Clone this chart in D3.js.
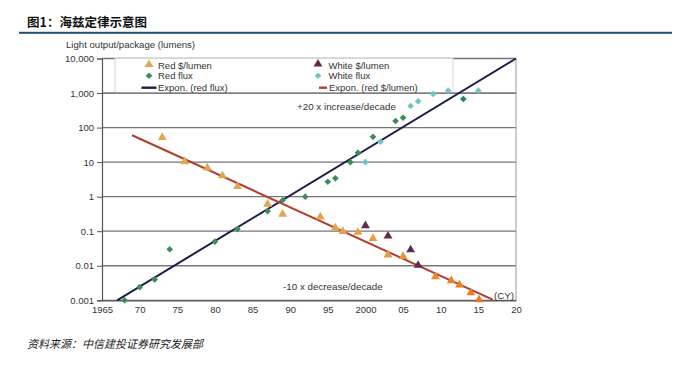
<!DOCTYPE html>
<html><head><meta charset="utf-8">
<script src="https://cdn.jsdelivr.net/npm/d3@7/dist/d3.min.js"></script>
<style>
html,body{margin:0;padding:0;background:#fff;}
svg{display:block;}
</style></head>
<body>
<svg id="chart" width="686" height="371"></svg>
<script>
// ---- data ----
const yTickValues = [10000, 1000, 100, 10, 1, 0.1, 0.01, 0.001];
const yTickLabels = ["10,000", "1,000", "100", "10", "1", "0.1", "0.01", "0.001"];
const xTickValues = [1965, 1970, 1975, 1980, 1985, 1990, 1995, 2000, 2005, 2010, 2015, 2020];
const xTickLabels = ["1965", "70", "75", "80", "85", "90", "95", "2000", "05", "10", "15", "20"];

const redCostYears = [1973, 1976, 1979, 1981, 1983, 1987, 1989, 1994, 1996, 1997, 1999, 2001, 2003, 2005, 2009.3, 2011.4, 2012.5, 2014, 2015.1];
const redCost      = [50, 10, 6.6, 3.9, 1.9, 0.59, 0.3, 0.25, 0.12, 0.095, 0.09, 0.06, 0.02, 0.018, 0.0047, 0.0036, 0.0027, 0.0016, 0.001];

const redFluxYears = [1968, 1970, 1972, 1974, 1980, 1983, 1987, 1989, 1992, 1995, 1996, 1998, 1999, 2001, 2004, 2005, 2013];
const redFlux      = [0.001, 0.0024, 0.004, 0.03, 0.05, 0.115, 0.38, 0.79, 1.0, 2.7, 3.4, 10, 18.6, 54, 155, 192, 670];

const whiteCostYears = [2000, 2003, 2006, 2007];
const whiteCost      = [0.14, 0.07, 0.028, 0.01];

const whiteFluxYears = [2000, 2002, 2006, 2007, 2009, 2011, 2015];
const whiteFlux      = [10, 39, 420, 575, 935, 1170, 1170];

// trend lines (fitted exponentials, endpoints)
const fluxFitYears = [1967, 2020];
const fluxFit      = [0.001, 10000];
const costFitYears = [1969, 2016.9];
const costFit      = [60, 0.00105];

// ---- drawing ----
const svg = d3.select("#chart");
const FONT = "'Liberation Sans', Arial, sans-serif";
const CJK = "'Noto Sans CJK SC', sans-serif";

const x = d3.scaleLinear().domain([1965, 2020]).range([102, 516]);
const y = d3.scaleLog().domain([0.001, 10000]).range([300.3, 58.5]);

// title
svg.append("text").attr("x", 27).attr("y", 27).attr("font-family", CJK)
  .attr("font-weight", "bold").attr("font-size", 12.5).attr("fill", "#111")
  .text("图1：海兹定律示意图");
svg.append("rect").attr("x", 19).attr("y", 31.8).attr("width", 653).attr("height", 2).attr("fill", "#1f4e79");

// axis title
svg.append("text").attr("x", 66).attr("y", 48).attr("font-family", FONT)
  .attr("font-size", 9.6).attr("fill", "#333").text("Light output/package (lumens)");

// gridlines
svg.append("g").selectAll("line").data(yTickValues).join("line")
  .attr("x1", x(1965)).attr("x2", x(2020))
  .attr("y1", d => y(d)).attr("y2", d => y(d))
  .attr("stroke", "#767676").attr("stroke-width", 1.3);

// right frame
svg.append("line").attr("x1", x(2020)).attr("x2", x(2020)).attr("y1", y(10000)).attr("y2", y(0.001))
  .attr("stroke", "#9a9a9a").attr("stroke-width", 1);

// legend box
svg.append("rect").attr("x", 115).attr("y", y(10000)).attr("width", 338).attr("height", 34)
  .attr("fill", "#fff").attr("stroke", "#d4d4d4").attr("stroke-width", 1);
// 1,000 gridline visible over the legend
svg.append("line").attr("x1", x(1965)).attr("x2", x(2020)).attr("y1", y(1000)).attr("y2", y(1000))
  .attr("stroke", "#767676").attr("stroke-width", 1.3);

// y axis
const yAxis = d3.axisLeft(y).tickValues(yTickValues).tickFormat((d, i) => yTickLabels[i]).tickSize(5).tickPadding(3);
const gy = svg.append("g").attr("transform", `translate(${x(1965)},0)`).call(yAxis);
gy.select(".domain").attr("stroke", "#555").attr("stroke-width", 1.2);
gy.selectAll(".tick line").attr("stroke", "#555");
gy.selectAll("text").attr("font-family", FONT).attr("font-size", 9.5).attr("fill", "#333");

// x axis
const xAxis = d3.axisBottom(x).tickValues(xTickValues).tickFormat((d, i) => xTickLabels[i]).tickSize(0).tickPadding(6);
const gx = svg.append("g").attr("transform", `translate(0,${y(0.001)})`).call(xAxis);
gx.select(".domain").attr("stroke", "#555").attr("stroke-width", 1.2);
gx.selectAll("text").attr("font-family", FONT).attr("font-size", 9.5).attr("fill", "#333");

// trend lines
const line = d3.line().x(d => x(d[0])).y(d => y(d[1]));
svg.append("path").datum(fluxFitYears.map((t, i) => [t, fluxFit[i]]))
  .attr("d", line).attr("fill", "none").attr("stroke", "#1c1c4e").attr("stroke-width", 2);
svg.append("path").datum(costFitYears.map((t, i) => [t, costFit[i]]))
  .attr("d", line).attr("fill", "none").attr("stroke", "#b33c2c").attr("stroke-width", 2);

// markers
const tri = d3.symbol().type(d3.symbolTriangle).size(34);
const sq = d3.symbol().type(d3.symbolSquare).size(22);
const orange = d3.scaleLinear().domain([1975, 2000, 2015]).range(["#dfa654", "#e8a045", "#ea7a1c"]).clamp(true);

function drawSeries(years, vals, sym, color, rot, dy) {
  svg.append("g").selectAll("path").data(years.map((t, i) => [t, vals[i]])).join("path")
    .attr("d", sym)
    .attr("transform", d => `translate(${x(d[0])},${y(d[1]) + (dy || 0)}) rotate(${rot})`)
    .attr("fill", typeof color === "function" ? d => color(d[0]) : color);
}
drawSeries(redFluxYears, redFlux, sq, d => d > 2010 ? "#2c7d78" : "#3f8a5c", 45);
drawSeries(whiteFluxYears, whiteFlux, sq, "#72c6c2", 45);
drawSeries(redCostYears, redCost, tri, orange, 0, -0.5);
drawSeries(whiteCostYears, whiteCost, tri, "#5e2c4a", 0, -0.5);

// legend entries
const leg = svg.append("g").attr("font-family", FONT).attr("font-size", 9.5).attr("fill", "#333");
const rows = [66, 75.8, 87.7];
leg.append("path").attr("d", tri).attr("transform", `translate(149,${rows[0] - 1.5})`).attr("fill", "#dfa654");
leg.append("path").attr("d", sq).attr("transform", `translate(149,${rows[1]}) rotate(45)`).attr("fill", "#3f8a5c");
leg.append("line").attr("x1", 141.5).attr("x2", 156.5).attr("y1", rows[2]).attr("y2", rows[2]).attr("stroke", "#1c1c4e").attr("stroke-width", 2.4);
leg.append("text").attr("x", 158).attr("y", rows[0] + 3.4).text("Red $/lumen");
leg.append("text").attr("x", 158).attr("y", rows[1] + 3.6).text("Red flux");
leg.append("text").attr("x", 158).attr("y", rows[2] + 3.6).text("Expon. (red flux)");

leg.append("path").attr("d", tri).attr("transform", `translate(318,${rows[0] - 2})`).attr("fill", "#5e2c4a");
leg.append("path").attr("d", sq).attr("transform", `translate(318,${rows[1]}) rotate(45)`).attr("fill", "#72c6c2");
leg.append("line").attr("x1", 319).attr("x2", 327).attr("y1", rows[2]).attr("y2", rows[2]).attr("stroke", "#b33c2c").attr("stroke-width", 2.4);
leg.append("text").attr("x", 328.5).attr("y", rows[0] + 3.4).text("White $/lumen");
leg.append("text").attr("x", 328.5).attr("y", rows[1] + 3.6).text("White flux");
leg.append("text").attr("x", 329).attr("y", rows[2] + 3.6).text("Expon. (red $/lumen)");

// annotations
const ann = svg.append("g").attr("font-family", FONT).attr("font-size", 9.8).attr("fill", "#333");
ann.append("text").attr("x", 297).attr("y", 109.5).text("+20 x increase/decade");
ann.append("text").attr("x", 283).attr("y", 290).text("-10 x decrease/decade");
ann.append("text").attr("x", 494).attr("y", 298.5).text("(CY)");

// source
svg.append("text").attr("x", 27).attr("y", 347.5).attr("font-family", CJK)
  .attr("font-size", 11).attr("font-style", "italic").attr("fill", "#222")
  .text("资料来源：中信建投证券研究发展部");
</script>
</body></html>
